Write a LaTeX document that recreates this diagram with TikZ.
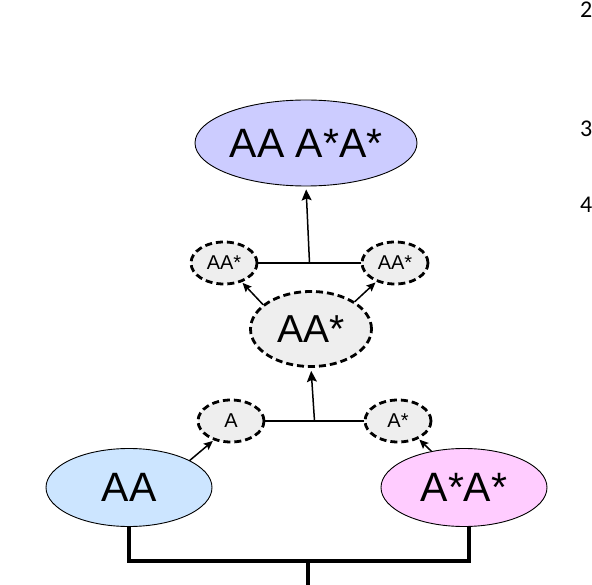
\documentclass[tikz,border=0pt]{standalone}
\usepackage{fontspec}
\setmainfont{Liberation Sans}
\newfontfamily\numfont{Carlito}
\usetikzlibrary{shapes.geometric,arrows.meta,calc}
\definecolor{topfill}{HTML}{CCCCFF}
\definecolor{aafill}{HTML}{CCE5FF}
\definecolor{asfill}{HTML}{FFCCFF}
\definecolor{hetfill}{HTML}{EEEEEE}
\begin{document}
\begin{tikzpicture}[line cap=round,line join=round,>={Stealth[length=11pt,width=10pt,inset=2pt]},x=1pt,y=-1pt,
	solidell/.style={ellipse,draw,line width=0.9pt,inner sep=0pt,font=\fontsize{41}{48}\selectfont},
	dashell/.style={ellipse,draw,line cap=butt,dash pattern=on 7pt off 4pt,line width=2.8pt,fill=hetfill,inner sep=0pt},
	smallell/.style={dashell,minimum width=66pt,minimum height=42pt,font=\fontsize{20}{24}\selectfont},
	conn/.style={line width=1.5pt},
	diag/.style={line width=1.5pt,-{Stealth[length=9pt,width=8pt,inset=1.5pt]},shorten >=1pt},
	bracket/.style={line width=3.8pt,line cap=butt,line join=miter},
	num/.style={anchor=base west,inner sep=0pt,font=\numfont\fontsize{24}{28}\selectfont}]
		\useasboundingbox (0,0) rectangle (592,585);
		% genotypes
		\node[solidell,fill=topfill,minimum width=222pt,minimum height=86pt] (AAtop) at (306,143) {AA A*A*};
		\node[solidell,fill=aafill,minimum width=166pt,minimum height=78pt] (AA) at (129,487.5) {AA};
		\node[solidell,fill=asfill,minimum width=166pt,minimum height=78pt] (AsAs) at (464,487.5) {A*A*};
		% gametes and hybrid
		\node[dashell,minimum width=121pt,minimum height=75pt,font=\fontsize{39}{46}\selectfont] (mid) at (311,329) {AA*};
		\node[smallell] (lAA) at (224,263) {AA*};
		\node[smallell] (rAA) at (395,263) {AA*};
		\node[smallell] (lA) at (231,421) {A};
		\node[smallell] (rA) at (398,421) {A*};
		% joins
		\draw[conn] (lA.east) -- (rA.west);
		\coordinate (j1) at ($(lA.east)!0.5!(rA.west)$);
		\draw[conn,->,shorten >=3pt] (j1) -- (mid.south);
		\draw[conn] (lAA.east) -- (rAA.west);
		\coordinate (j2) at ($(lAA.east)!0.5!(rAA.west)$);
		\draw[conn,->,shorten >=3pt] (j2) -- (AAtop.south);
		\draw[diag] (AA.24) -- (lA.-132);
		\draw[diag] (AsAs.132) -- (rA.-41);
		\draw[diag] (mid.153) -- (lAA.-47);
		\draw[diag] (mid.32) -- (rAA.-135);
		% cross
		\coordinate (stem) at (308,561);
		\draw[bracket] (AA.south) |- (stem) -| (AsAs.-83);
		\draw[bracket] (stem) -- ++(0,30);
		% margin numbers
		\node[num] (n2) at (580,18) {2};
		\node[num] (n3) at (580,137) {3};
		\node[num] (n4) at (580,213) {4};
\end{tikzpicture}
\end{document}
